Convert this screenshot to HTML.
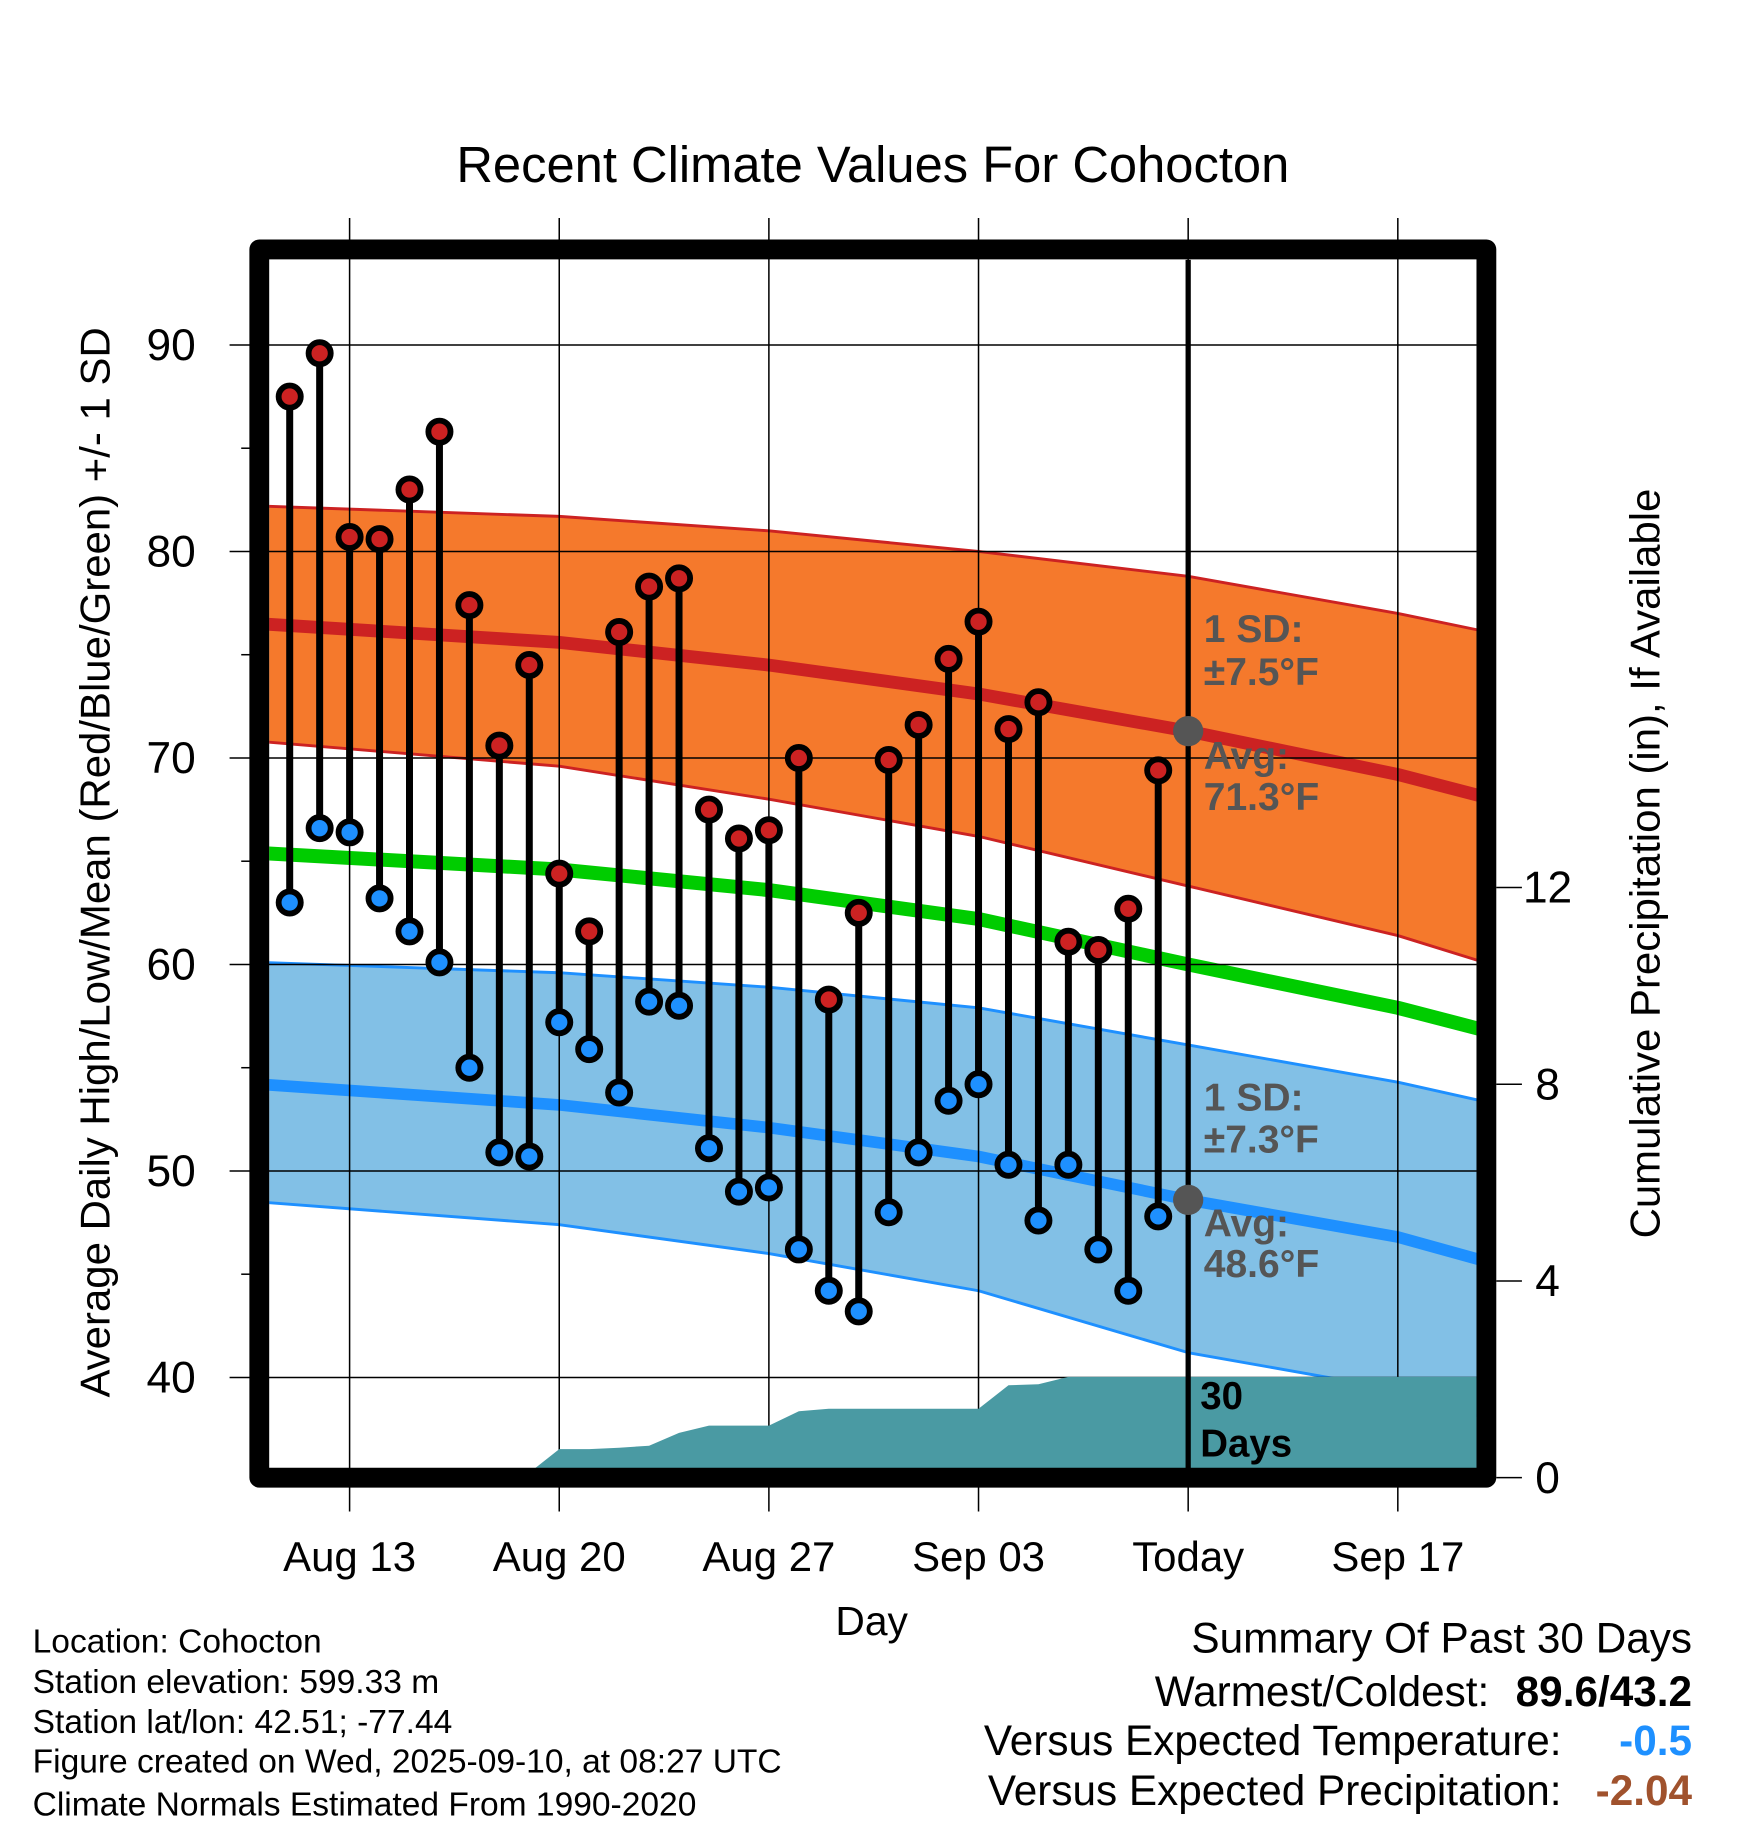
<!DOCTYPE html>
<html><head><meta charset="utf-8"><title>Recent Climate Values For Cohocton</title>
<style>html,body{margin:0;padding:0;background:#fff;}svg{display:block;font-family:"Liberation Sans",Arial,sans-serif;}</style></head>
<body>
<svg id="chart" width="1748" height="1828" viewBox="0 0 1500 1568.6" xmlns="http://www.w3.org/2000/svg">
<defs><clipPath id="plotclip"><rect x="231" y="223" width="1036" height="1037"/></clipPath></defs>
<g id="bands" clip-path="url(#plotclip)"></g>
<g id="grid"></g>
<g id="precip" clip-path="url(#plotclip)"></g>
<g id="marks"></g>
<rect x="222.5" y="214" width="1053" height="1054" fill="none" stroke="#000" stroke-width="17" stroke-linejoin="round"/>
<g id="axes"></g>
<text x="749" y="156" font-size="43.5" text-anchor="middle">Recent Climate Values For Cohocton</text>
<text transform="translate(94,740) rotate(-90)" font-size="36" text-anchor="middle">Average Daily High/Low/Mean (Red/Blue/Green) +/- 1 SD</text>
<text transform="translate(1424,741) rotate(-90)" font-size="36" text-anchor="middle">Cumulative Precipitation (in), If Available</text>
<text x="748" y="1403" font-size="35" text-anchor="middle">Day</text>
<g font-size="28.8">
<text x="28" y="1418">Location: Cohocton</text>
<text x="28" y="1453">Station elevation: 599.33 m</text>
<text x="28" y="1487">Station lat/lon: 42.51; -77.44</text>
<text x="28" y="1521">Figure created on Wed, 2025-09-10, at 08:27 UTC</text>
<text x="28" y="1558">Climate Normals Estimated From 1990-2020</text>
</g>
<g font-size="36.3" text-anchor="end">
<text x="1452" y="1418">Summary Of Past 30 Days</text>
<text x="1278" y="1464">Warmest/Coldest:</text>
<text x="1452" y="1464" font-weight="bold">89.6/43.2</text>
<text x="1340" y="1506">Versus Expected Temperature:</text>
<text x="1452" y="1506" font-weight="bold" fill="#1e90ff">-0.5</text>
<text x="1340" y="1549">Versus Expected Precipitation:</text>
<text x="1452" y="1549" font-weight="bold" fill="#a0522d">-2.04</text>
</g>
</svg>
<script>
// days are offsets from Aug 11
const dayLabels = ["Aug 13","Aug 20","Aug 27","Sep 03","Today","Sep 17"];
const dayLabelDays = [2,9,16,23,30,37];
const highs = [87.5,89.6,80.7,80.6,83.0,85.8,77.4,70.6,74.5,64.4,61.6,76.1,78.3,78.7,67.5,66.1,66.5,70.0,58.3,62.5,69.9,71.6,74.8,76.6,71.4,72.7,61.1,60.7,62.7,69.4];
const lows = [63.0,66.6,66.4,63.2,61.6,60.1,55.0,50.9,50.7,57.2,55.9,53.8,58.2,58.0,51.1,49.0,49.2,46.2,44.2,43.2,48.0,50.9,53.4,54.2,50.3,47.6,50.3,46.2,44.2,47.8];
const precip = [0,0,0,0,0,0,0,0,0.1,0.58,0.58,0.61,0.65,0.91,1.06,1.06,1.06,1.35,1.40,1.40,1.40,1.40,1.40,1.40,1.88,1.90,2.05,2.05,2.05,2.05];
const normDays = [-1,9,16,23,30,37,41];
const highMean = [76.5,75.6,74.5,73.1,71.3,69.2,67.7];
const highUpper = [82.2,81.7,81.0,80.0,78.8,77.0,75.8];
const highLower = [70.8,69.6,68.0,66.2,63.8,61.4,59.6];
const meanTemp = [65.4,64.6,63.6,62.2,60.0,57.9,56.4];
const lowMean = [54.2,53.2,52.1,50.7,48.6,46.8,45.2];
const lowUpper = [60.1,59.6,58.9,57.9,56.1,54.3,53.0];
const lowLower = [48.5,47.4,46.0,44.2,41.2,39.4,37.5];
const yTicks = [40,50,60,70,80,90];
const yMinor = [45,55,65,75,85];
const pTicks = [0,4,8,12];
const todayDay = 30;

const NS="http://www.w3.org/2000/svg";
const X = d => 248.6 + d*25.7;
const Y = v => 1182 - (v-40)*17.72;
const P = v => 1268 - v*42.2;
function mk(tag, attrs, parent){const e=document.createElementNS(NS,tag);for(const k in attrs)e.setAttribute(k,attrs[k]);parent.appendChild(e);return e;}
function pts(xs, ys){return xs.map((d,i)=>X(d).toFixed(1)+","+Y(ys[i]).toFixed(1)).join(" ");}
function bandPts(up, lo){return pts(normDays,up)+" "+pts(normDays.slice().reverse(),lo.slice().reverse());}

const bands=document.getElementById('bands');
let e;
e=mk('polygon',{points:bandPts(highUpper,highLower),fill:'#f5792c'},bands);


e=mk('polygon',{points:bandPts(lowUpper,lowLower),fill:'#82c0e6'},bands);


[[highUpper,'#cc2222',2.5,'high-upper-edge'],[highLower,'#cc2222',2.5,'high-lower-edge'],[lowUpper,'#1e90ff',2.5,'low-upper-edge'],[lowLower,'#1e90ff',2.5,'low-lower-edge'],[highMean,'#cc2222',11,'high-normal-line'],[meanTemp,'#00cc00',12,'mean-normal-line'],[lowMean,'#1e90ff',10,'low-normal-line']].forEach(s=>{
  const l=mk('polyline',{points:pts(normDays,s[0]),fill:'none',stroke:s[1],'stroke-width':s[2],'stroke-linejoin':'round'},bands);
  
  
});

const grid=document.getElementById('grid');
yTicks.forEach(v=>{
  const l=mk('line',{x1:197,x2:1267,y1:Y(v),y2:Y(v),stroke:'#000','stroke-width':1.3},grid);
  
  
});
yMinor.forEach(v=>{
  const l=mk('line',{x1:207,x2:216,y1:Y(v),y2:Y(v),stroke:'#000','stroke-width':1.3},grid);
  
  
});
dayLabelDays.forEach(d=>{
  const l=mk('line',{x1:X(d),x2:X(d),y1:187,y2:1297,stroke:'#000','stroke-width':1.3},grid);
  
  
});

const pg=document.getElementById('precip');
const pd=[...precip.map((v,i)=>X(i).toFixed(1)+","+P(v).toFixed(1)), X(45)+","+P(precip[precip.length-1])];
e=mk('polygon',{points:X(0)+","+P(0)+" "+pd.join(" ")+" "+X(45)+","+P(0),fill:'#4a9aa3'},pg);



const marks=document.getElementById('marks');
e=mk('line',{x1:X(todayDay),x2:X(todayDay),y1:223,y2:1260,stroke:'#000','stroke-width':4.5},marks);


const iH=normDays.indexOf(todayDay);
e=mk('circle',{cx:X(todayDay),cy:Y(highMean[iH]),r:13,fill:'#555'},marks);


e=mk('circle',{cx:X(todayDay),cy:Y(lowMean[iH]),r:13,fill:'#555'},marks);


const lab=[["1 SD:",551],["±7.5°F",588],["Avg:",660],["71.3°F",695],["1 SD:",953],["±7.3°F",989],["Avg:",1061],["48.6°F",1096]];
lab.forEach(t=>{
  const tx=mk('text',{x:1033,y:t[1],'font-size':33.5,'font-weight':'bold',fill:'#555'},marks);
  tx.textContent=t[0];
  
  
});
[["30",1209],["Days",1250]].forEach(t=>{
  const tx=mk('text',{x:1030,y:t[1],'font-size':33,'font-weight':'bold',fill:'#000'},marks);
  tx.textContent=t[0];
  
  
});
highs.forEach((h,i)=>{
  const s=mk('line',{x1:X(i),x2:X(i),y1:Y(h),y2:Y(lows[i]),stroke:'#000','stroke-width':6},marks);
  
  
  const c1=mk('circle',{cx:X(i),cy:Y(h),r:9.5,fill:'#cc2222',stroke:'#000','stroke-width':5},marks);
  
  
  const c2=mk('circle',{cx:X(i),cy:Y(lows[i]),r:9.5,fill:'#1e90ff',stroke:'#000','stroke-width':5},marks);
  
  
});

const axes=document.getElementById('axes');
yTicks.forEach(v=>{
  const t=mk('text',{x:168,y:Y(v)+13,'font-size':38,'text-anchor':'end'},axes);
  t.textContent=v;
  
  
});
pTicks.forEach(v=>{
  const l=mk('line',{x1:1284,x2:1306,y1:P(v),y2:P(v),stroke:'#000','stroke-width':1.3},axes);
  
  
  const t=mk('text',{x:1328,y:P(v)+13,'font-size':38,'text-anchor':'middle'},axes);
  t.textContent=v;
  
  
});
dayLabels.forEach((s,i)=>{
  const t=mk('text',{x:X(dayLabelDays[i]),y:1348,'font-size':36,'text-anchor':'middle'},axes);
  t.textContent=s;
  
  
});
</script>
</body></html>
